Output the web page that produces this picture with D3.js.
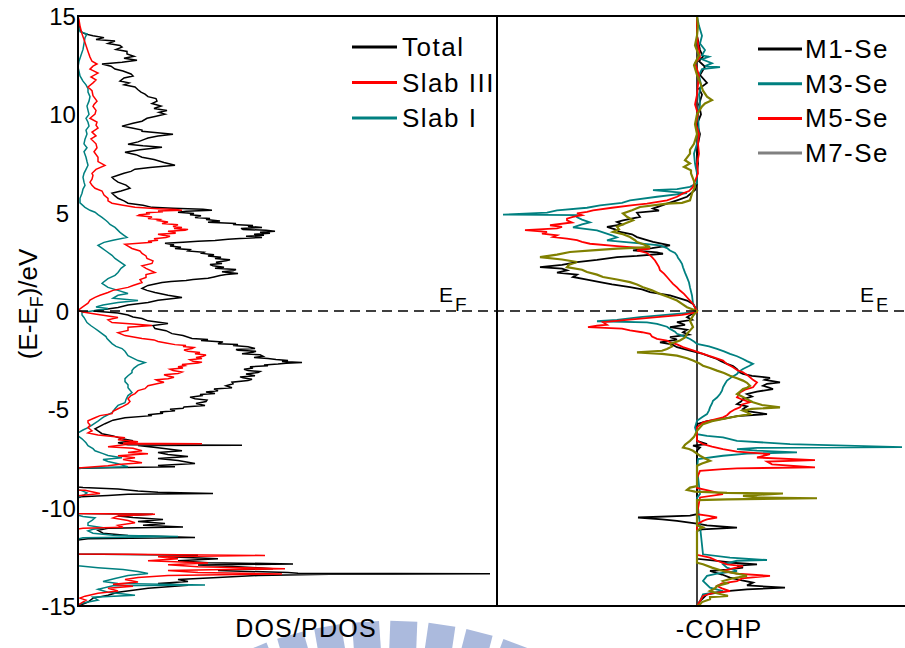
<!DOCTYPE html>
<html>
<head>
<meta charset="utf-8">
<script src="https://cdn.jsdelivr.net/npm/d3@7"></script>
<style>
  body { margin: 0; background: #fff; }
  svg { display: block; }
</style>
</head>
<body>
<svg id="chart" width="905" height="648"></svg>
<script>
// Energy axis ticks (eV, relative to the Fermi level)
const energyTicks = [-15, -10, -5, 0, 5, 10, 15];

// Series names
const dosSeriesNames = ["Total", "Slab III", "Slab I"];
const cohpSeriesNames = ["M1-Se", "M3-Se", "M5-Se", "M7-Se"];

// DOS / PDOS: [energy (eV), density of states]
const dosTotal = [
[15,0],[14.5,0.1],[14.2,0.3],[14.09,0.7],[14.0,1.5],[13.9,2.6],[13.8,1.8],[13.73,3.7],[13.6,3.0],[13.5,4.2],[13.42,4.4],[13.3,3.8],[13.2,4.9],[13.07,4.9],[12.95,5.6],[12.85,4.6],[12.75,5.9],[12.65,4.4],[12.56,2.4],[12.45,3.3],[12.3,3.7],[12.2,4.5],[12.05,5.3],[11.95,5.5],[11.85,4.6],[11.69,4.2],[11.6,5.1],[11.5,4.6],[11.39,5.7],[11.25,6.0],[11.13,6.3],[11.03,6.7],[10.9,7.0],[10.8,7.8],[10.67,7.9],[10.55,7.4],[10.42,8.3],[10.3,7.6],[10.2,8.9],[10.1,8.1],[10.01,8.7],[9.9,7.8],[9.8,6.9],[9.65,6.4],[9.55,5.5],[9.4,4.4],[9.3,5.4],[9.2,6.4],[9.14,6.4],[9.05,8.2],[8.99,9.5],[8.9,8.0],[8.8,7.0],[8.74,6.7],[8.6,6.0],[8.48,5.0],[8.4,6.5],[8.33,8.4],[8.2,6.2],[8.07,4.7],[7.95,5.8],[7.82,6.4],[7.7,7.6],[7.55,8.6],[7.41,9.7],[7.3,7.2],[7.21,5.7],[7.1,5.3],[7.0,4.6],[6.9,4.0],[6.8,3.4],[6.7,3.6],[6.55,4.0],[6.4,4.8],[6.24,5.2],[6.1,4.3],[5.99,3.4],[5.85,3.7],[5.73,4.0],[5.6,4.6],[5.48,5.0],[5.38,6.5],[5.27,7.4],[5.22,9.5],[5.17,12.5],[5.12,13.4],[5.07,10.8],[5.02,10.0],[4.96,11.6],[4.9,11.2],[4.84,12.3],[4.76,11.7],[4.7,13.2],[4.65,12.8],[4.58,14.2],[4.51,13.0],[4.45,15.8],[4.4,15.5],[4.35,17.5],[4.3,17.0],[4.25,18.4],[4.2,16.3],[4.15,16.5],[4.1,18.8],[4.05,19.7],[4.0,18.2],[3.95,19.2],[3.9,17.6],[3.85,18.6],[3.8,16.8],[3.74,18.4],[3.69,16.2],[3.65,15.0],[3.59,13.7],[3.55,12.0],[3.5,10.5],[3.44,8.7],[3.37,9.6],[3.3,9.2],[3.24,10.3],[3.18,9.7],[3.12,11.2],[3.05,11.0],[2.99,12.6],[2.93,12.4],[2.86,13.6],[2.8,13.0],[2.73,14.3],[2.67,13.7],[2.61,15.2],[2.55,14.8],[2.48,13.8],[2.42,14.4],[2.36,13.2],[2.3,13.5],[2.23,14.6],[2.17,13.7],[2.11,15.8],[2.05,15.5],[1.99,14.4],[1.96,15.0],[1.91,16.0],[1.85,14.8],[1.8,14.2],[1.73,13.6],[1.66,13.0],[1.6,11.5],[1.55,10.8],[1.5,9.3],[1.45,8.4],[1.3,7.0],[1.15,6.4],[1.05,6.9],[0.94,7.7],[0.8,9.0],[0.69,10.4],[0.55,8.0],[0.43,7.0],[0.3,5.0],[0.18,4.0],[0.08,2.6],[0.0,1.5],[-0.1,4.0],[-0.2,5.0],[-0.3,5.5],[-0.38,6.4],[-0.5,7.0],[-0.64,9.0],[-0.74,7.5],[-0.89,7.7],[-1.0,8.8],[-1.15,9.4],[-1.25,10.5],[-1.4,11.4],[-1.45,13.0],[-1.5,12.3],[-1.57,14.5],[-1.66,14.0],[-1.7,16.0],[-1.75,15.5],[-1.82,17.0],[-1.91,17.7],[-1.96,15.8],[-2.0,16.0],[-2.05,17.8],[-2.1,17.5],[-2.17,16.4],[-2.23,18.2],[-2.3,18.5],[-2.36,17.6],[-2.42,19.0],[-2.47,19.8],[-2.52,21.0],[-2.57,20.4],[-2.62,22.4],[-2.66,20.8],[-2.7,20.0],[-2.74,18.6],[-2.78,19.0],[-2.84,17.2],[-2.9,17.5],[-2.96,16.6],[-3.03,17.0],[-3.08,18.2],[-3.13,18.0],[-3.2,16.8],[-3.29,17.7],[-3.35,16.2],[-3.4,16.5],[-3.47,17.4],[-3.54,17.0],[-3.62,15.4],[-3.7,15.5],[-3.8,14.8],[-3.9,15.4],[-3.97,13.6],[-4.05,14.0],[-4.12,12.8],[-4.2,13.7],[-4.25,12.2],[-4.3,12.5],[-4.38,11.2],[-4.46,11.7],[-4.53,12.9],[-4.6,12.8],[-4.7,11.8],[-4.81,12.7],[-4.88,10.6],[-4.95,10.5],[-5.0,9.2],[-5.07,9.7],[-5.14,8.2],[-5.2,8.5],[-5.27,7.0],[-5.32,7.4],[-5.43,4.7],[-5.55,3.5],[-5.73,2.7],[-5.99,1.7],[-6.1,2.0],[-6.24,2.4],[-6.35,3.5],[-6.5,4.4],[-6.6,5.5],[-6.7,4.0],[-6.8,5.0],[-6.82,16.4],[-6.84,6.0],[-6.95,8.0],[-7.11,10.4],[-7.2,8.0],[-7.3,9.0],[-7.4,11.0],[-7.5,8.0],[-7.6,10.0],[-7.75,11.7],[-7.85,8.0],[-7.92,9.7],[-7.97,3.0],[-8.0,0],[-8.95,0],[-8.97,0.5],[-9.05,4.0],[-9.15,6.0],[-9.22,8.0],[-9.28,13.5],[-9.32,5.0],[-9.38,3.0],[-9.45,0.3],[-9.5,0],[-10.3,0],[-10.33,7.5],[-10.42,4.0],[-10.5,5.5],[-10.6,8.5],[-10.7,6.0],[-10.8,8.7],[-10.9,6.5],[-10.98,10.5],[-11.05,3.0],[-11.15,2.0],[-11.3,2.5],[-11.42,5.0],[-11.52,11.7],[-11.58,1.0],[-11.65,0],[-12.35,0],[-12.42,12.0],[-12.5,9.0],[-12.6,14.0],[-12.7,10.0],[-12.8,13.0],[-12.86,21.5],[-12.92,12.0],[-13.0,16.0],[-13.1,19.5],[-13.2,14.0],[-13.3,21.0],[-13.34,22.0],[-13.36,41.2],[-13.38,25.2],[-13.45,18.0],[-13.55,14.0],[-13.65,10.0],[-13.75,11.0],[-13.85,8.0],[-13.95,11.0],[-14.1,7.0],[-14.2,5.5],[-14.3,4.0],[-14.45,3.0],[-14.6,1.5],[-14.8,1.0],[-15,0]
];

const dosSlabIII = [
[15,0],[14.8,0.1],[14.5,0.2],[14.29,0.3],[14.09,0.4],[13.8,0.6],[13.5,0.8],[13.2,1.0],[12.91,1.2],[12.7,1.4],[12.56,1.9],[12.45,1.5],[12.3,1.2],[12.1,2.0],[11.9,1.3],[11.75,1.8],[11.6,1.5],[11.39,1.0],[11.2,1.4],[10.95,1.5],[10.67,1.9],[10.5,1.6],[10.4,1.5],[10.2,1.8],[10.01,1.7],[9.8,1.2],[9.6,1.9],[9.45,1.8],[9.3,2.0],[9.1,1.4],[8.9,1.8],[8.75,1.3],[8.5,1.8],[8.3,1.9],[8.1,1.6],[7.82,2.0],[7.6,2.0],[7.4,2.7],[7.2,1.8],[7.0,1.4],[6.9,1.5],[6.7,1.4],[6.55,1.2],[6.39,1.4],[6.24,1.7],[6.1,2.4],[5.9,2.6],[5.73,3.0],[5.6,3.0],[5.48,3.4],[5.38,4.5],[5.27,5.7],[5.2,8.0],[5.16,9.8],[5.12,10.4],[5.08,8.0],[5.05,8.5],[5.0,6.8],[4.95,7.2],[4.9,6.2],[4.85,6.0],[4.78,7.4],[4.7,7.0],[4.65,8.2],[4.6,8.0],[4.52,9.0],[4.45,8.4],[4.38,10.0],[4.3,9.5],[4.25,10.4],[4.2,9.6],[4.15,11.0],[4.1,10.7],[4.05,9.0],[4.0,9.7],[3.95,9.7],[3.9,8.0],[3.85,8.5],[3.8,9.2],[3.74,8.8],[3.67,7.6],[3.6,8.0],[3.55,7.0],[3.49,7.4],[3.39,4.7],[3.3,5.0],[3.18,5.4],[3.05,6.2],[2.93,6.4],[2.8,6.8],[2.67,6.9],[2.55,7.5],[2.42,7.4],[2.3,6.4],[2.17,6.8],[1.96,7.7],[1.85,6.8],[1.7,6.8],[1.6,6.2],[1.45,6.4],[1.3,5.5],[1.2,5.0],[1.05,3.5],[0.94,3.0],[0.8,2.2],[0.69,1.7],[0.55,1.2],[0.4,1.0],[0.18,0.4],[0.03,0],[-0.05,0.5],[-0.15,1.7],[-0.25,3.0],[-0.33,4.0],[-0.45,3.0],[-0.59,3.4],[-0.66,5.5],[-0.74,7.4],[-0.82,5.0],[-0.99,5.0],[-1.1,4.0],[-1.25,4.7],[-1.4,6.4],[-1.47,7.6],[-1.55,8.0],[-1.63,8.8],[-1.71,9.7],[-1.76,10.8],[-1.8,10.5],[-1.86,11.6],[-1.91,11.4],[-1.98,10.6],[-2.05,11.0],[-2.11,12.2],[-2.17,11.7],[-2.24,12.8],[-2.3,12.5],[-2.36,11.8],[-2.42,12.4],[-2.48,11.2],[-2.55,11.5],[-2.6,12.4],[-2.65,12.0],[-2.72,10.4],[-2.78,10.7],[-2.84,10.0],[-2.9,10.5],[-2.96,9.2],[-3.03,9.5],[-3.1,10.4],[-3.18,10.0],[-3.24,8.6],[-3.3,9.0],[-3.37,9.6],[-3.44,9.0],[-3.5,7.8],[-3.55,8.0],[-3.62,8.6],[-3.69,8.0],[-3.8,7.0],[-3.95,6.7],[-4.05,6.0],[-4.2,5.7],[-4.3,5.3],[-4.46,5.0],[-4.6,5.2],[-4.71,5.0],[-4.85,4.5],[-4.97,4.0],[-5.1,3.5],[-5.22,3.4],[-5.32,2.2],[-5.43,1.7],[-5.58,1.0],[-5.68,1.0],[-5.8,1.2],[-5.93,1.0],[-6.09,1.4],[-6.2,1.0],[-6.3,2.0],[-6.44,4.7],[-6.55,4.0],[-6.65,6.0],[-6.73,4.5],[-6.75,12.4],[-6.77,5.0],[-6.9,3.0],[-6.98,5.5],[-7.11,6.4],[-7.2,5.0],[-7.26,7.0],[-7.36,4.0],[-7.46,5.7],[-7.55,4.5],[-7.72,6.4],[-7.8,4.0],[-7.87,3.0],[-7.95,1.0],[-7.98,0],[-9.1,0],[-9.12,0.7],[-9.2,1.5],[-9.28,2.2],[-9.35,0.8],[-9.4,0],[-10.3,0],[-10.33,7.7],[-10.42,4.0],[-10.52,3.5],[-10.65,5.0],[-10.77,5.7],[-10.9,4.0],[-11.0,4.5],[-11.05,0.5],[-11.08,0],[-12.35,0],[-12.37,5.0],[-12.43,18.7],[-12.5,8.0],[-12.6,10.0],[-12.7,7.0],[-12.81,13.0],[-12.9,9.0],[-13.0,12.0],[-13.1,20.7],[-13.2,9.0],[-13.3,12.0],[-13.37,20.4],[-13.45,9.0],[-13.55,6.0],[-13.65,4.7],[-13.78,6.0],[-13.9,3.5],[-14.0,5.5],[-14.1,3.0],[-14.24,4.0],[-14.35,2.0],[-14.5,0.7],[-14.6,0.2],[-14.7,0.8],[-14.95,0],[-15,0]
];

const dosSlabI = [
[15,0],[14.5,0.05],[14.2,0.2],[14.09,0.9],[13.9,0.7],[13.6,0.6],[13.3,0.5],[13.0,0.3],[12.7,0.1],[12.4,0],[12.2,0.1],[11.95,0.2],[11.69,0.5],[11.5,0.8],[11.3,1.0],[11.13,1.0],[10.9,1.2],[10.67,1.1],[10.42,0.9],[10.2,1.0],[10.0,1.1],[9.8,0.8],[9.6,1.0],[9.4,1.1],[9.2,0.8],[9.0,0.9],[8.74,0.7],[8.5,0.6],[8.3,0.9],[8.1,0.6],[7.82,0.8],[7.6,0.9],[7.41,1.0],[7.2,0.8],[7.0,0.6],[6.8,0.5],[6.55,0.6],[6.39,0.7],[6.2,0.5],[5.99,0.4],[5.73,0.2],[5.5,0.2],[5.27,0.7],[5.12,1.2],[5.02,1.7],[4.9,2.0],[4.76,2.4],[4.6,2.8],[4.51,3.0],[4.4,3.2],[4.25,3.7],[4.1,4.0],[4.0,4.2],[3.85,4.6],[3.74,4.9],[3.6,3.5],[3.49,2.6],[3.34,2.0],[3.2,2.4],[3.05,2.8],[2.83,3.4],[2.67,3.7],[2.5,4.2],[2.32,4.7],[2.17,4.3],[1.96,4.0],[1.81,3.7],[1.65,3.0],[1.45,2.5],[1.4,2.4],[1.2,3.0],[1.05,4.0],[0.89,5.0],[0.8,4.0],[0.65,3.5],[0.53,6.0],[0.43,4.0],[0.3,2.5],[0.2,1.8],[0.13,3.0],[0.03,1.7],[-0.08,0.4],[-0.2,0.4],[-0.33,0.6],[-0.59,0.9],[-0.75,1.3],[-0.89,1.7],[-1.0,2.0],[-1.15,2.4],[-1.3,2.8],[-1.4,2.9],[-1.66,3.4],[-1.8,3.8],[-1.91,4.4],[-2.05,4.7],[-2.27,5.0],[-2.42,5.6],[-2.52,6.0],[-2.62,6.7],[-2.75,6.0],[-2.9,5.6],[-3.03,5.4],[-3.13,5.4],[-3.29,5.0],[-3.44,4.7],[-3.59,4.7],[-3.75,5.0],[-3.9,5.0],[-4.15,5.4],[-4.3,5.0],[-4.5,4.8],[-4.66,4.7],[-4.8,4.0],[-4.97,3.7],[-5.17,3.4],[-5.35,2.7],[-5.45,2.4],[-5.6,2.0],[-5.8,1.4],[-5.93,1.0],[-6.05,0.5],[-6.19,0],[-6.35,0],[-6.5,0.4],[-6.7,0.8],[-6.85,1.0],[-7.0,1.5],[-7.11,1.7],[-7.25,2.5],[-7.35,3.0],[-7.46,4.4],[-7.55,2.5],[-7.65,3.0],[-7.77,4.0],[-7.85,4.5],[-7.92,5.0],[-7.98,0.5],[-8.02,0],[-9.1,0],[-9.12,0.3],[-9.25,0.9],[-9.35,0.6],[-9.42,0.2],[-9.5,0],[-10.38,0],[-10.45,0.5],[-10.52,1.7],[-10.65,1.4],[-10.77,1.0],[-10.9,1.0],[-11.03,2.7],[-11.1,1.5],[-11.18,1.0],[-11.3,1.5],[-11.4,3.5],[-11.47,10.0],[-11.53,0.5],[-11.6,0],[-12.95,0],[-13.05,2.0],[-13.15,4.5],[-13.25,6.0],[-13.35,7.0],[-13.45,5.0],[-13.6,3.7],[-13.75,2.5],[-13.85,4.0],[-13.93,12.7],[-13.97,3.5],[-14.15,2.0],[-14.3,3.0],[-14.45,5.7],[-14.55,1.5],[-14.7,2.0],[-14.85,0.5],[-14.95,0],[-15,0]
];

// -COHP per bond: [energy (eV), -COHP]
const cohpM1 = [
[15,0],[14,0],[13.27,0.03],[12.93,0.06],[12.7,0.02],[12.42,0.08],[12.0,0.03],[11.6,0.1],[11.3,0.02],[11.0,0.05],[10.5,0.02],[10.0,0.04],[9.5,0],[9.0,0.03],[8.5,0.01],[8.0,0],[7.5,0.01],[7.0,0],[6.5,0],[6.15,-0.02],[5.81,-0.1],[5.63,-0.2],[5.46,-0.3],[5.21,-0.44],[5.1,-0.38],[5.0,-0.6],[4.79,-0.57],[4.61,-0.74],[4.53,-0.8],[4.4,-0.75],[4.28,-0.9],[4.15,-0.82],[4.02,-0.77],[3.9,-0.65],[3.76,-0.6],[3.6,-0.5],[3.51,-0.44],[3.34,-0.27],[3.2,-0.45],[3.08,-0.64],[2.98,-0.4],[2.91,-0.34],[2.8,-0.6],[2.74,-0.8],[2.6,-1.0],[2.49,-1.2],[2.35,-1.35],[2.23,-1.57],[2.15,-1.35],[2.07,-1.3],[1.95,-1.4],[1.85,-1.2],[1.73,-1.24],[1.6,-1.1],[1.47,-0.97],[1.35,-0.85],[1.21,-0.67],[1.1,-0.55],[0.96,-0.47],[0.79,-0.27],[0.53,-0.1],[0.36,-0.04],[0,0],[-0.31,-0.1],[-0.45,-0.05],[-0.57,-0.2],[-0.7,-0.12],[-0.82,-0.27],[-0.95,-0.1],[-1.08,-0.14],[-1.2,-0.08],[-1.33,-0.27],[-1.45,-0.2],[-1.59,-0.37],[-1.7,-0.25],[-1.84,-0.2],[-2.01,-0.07],[-2.18,0.06],[-2.3,0.12],[-2.44,0.2],[-2.55,0.24],[-2.69,0.3],[-2.8,0.36],[-2.95,0.4],[-3.1,0.42],[-3.2,0.46],[-3.3,0.55],[-3.4,0.73],[-3.5,0.68],[-3.63,0.83],[-3.7,0.7],[-3.8,0.66],[-3.9,0.72],[-3.97,0.76],[-4.1,0.6],[-4.22,0.5],[-4.35,0.55],[-4.48,0.46],[-4.6,0.44],[-4.73,0.4],[-4.85,0.5],[-4.98,0.46],[-5.1,0.52],[-5.24,0.7],[-5.35,0.4],[-5.49,0.26],[-5.6,0.1],[-5.75,0],[-6.6,0],[-6.77,0.1],[-6.85,-0.04],[-6.94,0.03],[-7.1,0],[-10.33,0],[-10.4,-0.07],[-10.5,-0.59],[-10.6,-0.35],[-10.67,-0.2],[-10.81,0],[-10.9,0.1],[-11.01,0.4],[-11.1,0.05],[-11.18,0],[-12.6,0],[-12.71,0.2],[-12.8,0.35],[-12.88,0.6],[-12.95,0.4],[-13.05,0.46],[-13.15,0.3],[-13.22,0.13],[-13.4,0.25],[-13.56,0.33],[-13.7,0.45],[-13.81,0.56],[-13.95,0.5],[-14.07,0.88],[-14.15,0.5],[-14.24,0.3],[-14.41,0.1],[-14.75,0.03],[-15,0]
];

const cohpM3 = [
[15,0],[14.5,0.02],[14.0,0.05],[13.6,0.03],[13.27,0.08],[13.0,0.05],[12.93,0.12],[12.8,0.05],[12.6,0.15],[12.45,0.08],[12.4,0.23],[12.3,0.05],[12.0,0.02],[11.5,0.04],[11.0,0.02],[10.5,0.03],[10.0,0.01],[9.0,0.02],[8.5,0],[8.0,-0.03],[7.5,-0.02],[7.0,0],[6.5,0],[6.31,-0.07],[6.2,-0.2],[6.15,-0.44],[5.99,-0.1],[5.81,-0.4],[5.63,-0.67],[5.5,-0.75],[5.37,-0.97],[5.25,-1.1],[5.12,-1.4],[5.0,-1.5],[4.9,-1.94],[4.87,-1.2],[4.77,-1.2],[4.65,-1.15],[4.51,-1.07],[4.4,-1.15],[4.25,-1.24],[4.1,-1.0],[4.0,-0.94],[3.85,-0.85],[3.74,-0.8],[3.59,-0.9],[3.45,-0.6],[3.34,-0.37],[3.2,-0.3],[3.08,-0.27],[2.95,-0.22],[2.83,-0.2],[2.7,-0.19],[2.57,-0.17],[2.4,-0.15],[2.22,-0.14],[1.95,-0.12],[1.71,-0.1],[1.45,-0.08],[1.2,-0.07],[0.79,-0.05],[0.38,-0.04],[0,0],[-0.06,0],[-0.31,-0.57],[-0.45,-0.8],[-0.52,-1.0],[-0.58,-0.5],[-0.65,-0.4],[-0.8,-0.3],[-0.91,-0.27],[-1.05,-0.22],[-1.16,-0.2],[-1.3,-0.12],[-1.42,-0.07],[-1.55,-0.03],[-1.67,0],[-1.8,0.12],[-1.93,0.2],[-2.05,0.27],[-2.18,0.33],[-2.3,0.4],[-2.44,0.46],[-2.55,0.5],[-2.69,0.56],[-2.8,0.52],[-2.95,0.46],[-3.08,0.42],[-3.2,0.4],[-3.35,0.35],[-3.54,0.3],[-3.7,0.28],[-3.88,0.26],[-4.05,0.25],[-4.22,0.23],[-4.4,0.2],[-4.56,0.16],[-4.7,0.15],[-4.9,0.13],[-5.05,0.12],[-5.24,0.1],[-5.4,0.05],[-5.58,0],[-5.92,-0.02],[-6.26,0],[-6.35,0.1],[-6.43,0.26],[-6.6,0.4],[-6.77,0.93],[-6.92,2.05],[-6.96,0.6],[-7.02,0.4],[-7.1,0.6],[-7.19,1.0],[-7.25,0.5],[-7.36,0.26],[-7.53,0.01],[-8.0,0],[-9.3,0.03],[-9.5,0],[-12.37,0.06],[-12.54,0.33],[-12.66,0.7],[-12.7,0.4],[-12.88,0.26],[-13.05,0.3],[-13.22,0.4],[-13.35,0.2],[-13.47,0.1],[-13.73,0.06],[-14.07,0.13],[-14.24,0.26],[-14.41,0.06],[-14.75,0.03],[-15,0]
];

const cohpM5 = [
[15,0],[14,0],[13.27,0.02],[12.9,0.03],[12.6,-0.02],[12.0,0.02],[11.0,0],[10.5,-0.02],[10.0,0.01],[9.5,-0.01],[9.0,0.02],[8.5,0.01],[8.0,0.02],[7.5,0],[7.0,0.01],[6.6,-0.02],[6.31,-0.04],[6.1,-0.08],[5.98,-0.14],[5.81,-0.2],[5.63,-0.3],[5.46,-0.5],[5.38,-0.64],[5.25,-0.85],[5.12,-1.04],[5.04,-1.1],[4.96,-1.2],[4.87,-1.15],[4.79,-1.24],[4.7,-1.3],[4.61,-1.3],[4.5,-1.25],[4.36,-1.47],[4.28,-1.35],[4.2,-1.4],[4.11,-1.72],[4.02,-1.5],[3.93,-1.55],[3.85,-1.4],[3.76,-1.44],[3.68,-1.3],[3.6,-1.2],[3.51,-1.15],[3.42,-1.07],[3.3,-0.8],[3.17,-0.47],[3.08,-0.6],[2.95,-0.5],[2.83,-0.47],[2.74,-0.45],[2.57,-0.42],[2.4,-0.4],[2.23,-0.38],[2.07,-0.37],[1.9,-0.33],[1.73,-0.3],[1.55,-0.27],[1.38,-0.24],[1.2,-0.2],[1.04,-0.17],[0.87,-0.13],[0.7,-0.1],[0.53,-0.07],[0.36,-0.04],[0,0],[-0.06,0],[-0.2,-0.15],[-0.31,-0.4],[-0.45,-0.7],[-0.57,-0.94],[-0.7,-0.9],[-0.74,-1.0],[-0.82,-1.09],[-0.9,-0.75],[-0.99,-0.67],[-1.08,-0.55],[-1.16,-0.47],[-1.3,-0.45],[-1.42,-0.4],[-1.5,-0.3],[-1.59,-0.27],[-1.7,-0.2],[-1.84,-0.14],[-2.0,-0.04],[-2.18,0.06],[-2.35,0.16],[-2.52,0.26],[-2.7,0.3],[-2.86,0.36],[-3.0,0.4],[-3.12,0.46],[-3.25,0.5],[-3.37,0.53],[-3.5,0.56],[-3.63,0.6],[-3.75,0.58],[-3.88,0.56],[-4.0,0.48],[-4.14,0.43],[-4.25,0.42],[-4.39,0.4],[-4.5,0.45],[-4.64,0.53],[-4.75,0.45],[-4.9,0.43],[-5.0,0.38],[-5.15,0.33],[-5.3,0.3],[-5.41,0.26],[-5.55,0.15],[-5.66,0.06],[-5.92,0],[-6.6,0],[-6.77,0.06],[-6.9,0.15],[-7.02,0.26],[-7.15,0.4],[-7.28,0.73],[-7.45,0.6],[-7.58,1.18],[-7.66,0.7],[-7.8,0.75],[-7.95,1.18],[-8.0,0.4],[-8.04,0.26],[-8.13,0.03],[-8.5,0],[-9.0,0],[-9.15,0.13],[-9.31,0.26],[-9.48,0.03],[-10.33,0],[-10.42,0.12],[-10.5,0.2],[-10.6,0.1],[-10.67,0.06],[-10.84,0],[-12.4,0],[-12.54,0.13],[-12.7,0.2],[-12.88,0.3],[-12.97,0.46],[-13.1,0.35],[-13.22,0.26],[-13.35,0.4],[-13.47,0.73],[-13.6,0.45],[-13.73,0.4],[-13.85,0.25],[-13.98,0.2],[-14.1,0.25],[-14.24,0.33],[-14.35,0.15],[-14.49,0.06],[-14.75,0.03],[-15,0]
];

const cohpM7 = [
[15,0],[14.5,0.01],[14.0,0],[13.5,-0.02],[13.0,0.02],[12.5,-0.03],[12.0,0],[11.5,0.04],[11.2,0.06],[10.9,0.1],[10.72,0.15],[10.55,0.08],[10.4,0.05],[10.0,0],[9.5,-0.02],[9.0,0],[8.5,-0.03],[8.2,-0.07],[8.0,-0.07],[7.8,-0.1],[7.67,-0.12],[7.5,-0.07],[7.33,-0.13],[7.15,-0.06],[7.0,-0.06],[6.6,-0.03],[6.31,-0.02],[5.98,-0.05],[5.63,-0.07],[5.5,-0.15],[5.46,-0.3],[5.29,-0.57],[5.12,-0.65],[4.96,-0.74],[4.79,-0.7],[4.61,-0.64],[4.45,-0.72],[4.28,-0.8],[4.15,-0.78],[4.02,-0.84],[3.9,-0.74],[3.76,-0.67],[3.6,-0.62],[3.51,-0.6],[3.38,-0.53],[3.25,-0.47],[3.17,-0.8],[3.08,-1.05],[3.0,-1.27],[2.87,-1.4],[2.74,-1.57],[2.62,-1.35],[2.49,-1.2],[2.35,-1.28],[2.23,-1.3],[2.1,-1.15],[1.98,-1.1],[1.85,-1.0],[1.73,-0.94],[1.6,-0.8],[1.47,-0.67],[1.35,-0.6],[1.21,-0.54],[1.05,-0.45],[0.87,-0.37],[0.7,-0.28],[0.53,-0.2],[0.36,-0.15],[0.19,-0.1],[0,0],[-0.25,-0.04],[-0.5,-0.07],[-0.82,-0.04],[-1.16,-0.1],[-1.35,-0.12],[-1.5,-0.17],[-1.67,-0.27],[-1.8,-0.25],[-1.93,-0.3],[-2.02,-0.35],[-2.1,-0.6],[-2.18,-0.35],[-2.27,-0.2],[-2.4,-0.1],[-2.52,-0.04],[-2.65,0.02],[-2.78,0.06],[-2.9,0.13],[-3.03,0.2],[-3.15,0.27],[-3.29,0.33],[-3.42,0.4],[-3.54,0.46],[-3.65,0.5],[-3.8,0.53],[-3.9,0.5],[-3.97,0.46],[-4.1,0.43],[-4.22,0.4],[-4.35,0.45],[-4.48,0.5],[-4.64,0.56],[-4.78,0.65],[-4.9,0.83],[-4.98,0.55],[-5.07,0.46],[-5.15,0.5],[-5.24,0.53],[-5.35,0.4],[-5.49,0.26],[-5.6,0.15],[-5.75,0.06],[-6.09,0],[-6.4,-0.03],[-6.6,-0.07],[-6.8,-0.12],[-6.94,-0.14],[-7.02,-0.08],[-7.11,-0.04],[-7.36,0.03],[-7.5,0.08],[-7.62,0.13],[-7.75,0.05],[-7.87,0],[-8.9,0],[-8.98,-0.07],[-9.1,-0.1],[-9.18,-0.02],[-9.25,0.3],[-9.28,0.86],[-9.35,0.6],[-9.4,0.46],[-9.48,0.6],[-9.52,1.2],[-9.58,0.3],[-9.62,0],[-10.9,0],[-11.0,0.06],[-11.1,0.02],[-11.2,0],[-12.8,0],[-12.88,0.06],[-13.05,0.15],[-13.22,0.26],[-13.35,0.4],[-13.47,0.5],[-13.6,0.35],[-13.73,0.26],[-13.85,0.3],[-13.98,0.2],[-14.1,0.18],[-14.24,0.13],[-14.35,0.2],[-14.49,0.31],[-14.55,0.13],[-14.66,0.13],[-14.8,0.05],[-14.92,0.03],[-15,0]
];

// ---------------------------------------------------------------------------
const FONT = "'Liberation Sans', Arial, Helvetica, sans-serif";
const svg = d3.select("#chart");

const plotTop = 16, plotBottom = 606;
const dosLeft = 78, split = 497, cohpRight = 905;

const y = d3.scaleLinear().domain([-15, 15]).range([plotBottom, plotTop]);
const xDos = d3.scaleLinear().domain([0, 41.9]).range([dosLeft, split]);
const xCohp = d3.scaleLinear().domain([-2.0, 2.08]).range([split, cohpRight]);

svg.append("rect").attr("width", 905).attr("height", 648).attr("fill", "#fff");

// faint emblem behind the lower edge
const emblem = svg.append("g").attr("transform", "translate(390,981)");
[-22.2, -16.1, -10, -3.9, 2.2, 8.3, 14.4, 20.5].forEach(a => {
  emblem.append("rect")
    .attr("x", -13.5).attr("y", -360).attr("width", 27).attr("height", 70)
    .attr("fill", "#abbadd")
    .attr("transform", `rotate(${a})`);
});

// clip regions for the two panels
const defs = svg.append("defs");
defs.append("clipPath").attr("id", "clipDos").append("rect")
  .attr("x", dosLeft).attr("y", plotTop).attr("width", split - dosLeft).attr("height", plotBottom - plotTop);
defs.append("clipPath").attr("id", "clipCohp").append("rect")
  .attr("x", split).attr("y", plotTop).attr("width", cohpRight - split).attr("height", plotBottom - plotTop);

// zero line of the -COHP panel
svg.append("line")
  .attr("x1", xCohp(0)).attr("x2", xCohp(0))
  .attr("y1", plotTop).attr("y2", plotBottom)
  .attr("stroke", "#000").attr("stroke-width", 1.5);

// DOS / PDOS curves
const dosLine = d3.line().x(d => xDos(d[1])).y(d => y(d[0]));
const dosLayers = [
  { data: dosTotal, color: "#000000" },
  { data: dosSlabI, color: "#008080" },
  { data: dosSlabIII, color: "#ff0000" }
];
const gDos = svg.append("g").attr("clip-path", "url(#clipDos)");
dosLayers.forEach(s => {
  gDos.append("path").datum(s.data)
    .attr("d", dosLine)
    .attr("fill", "none").attr("stroke", s.color)
    .attr("stroke-width", 1.5).attr("stroke-linejoin", "miter");
});

// -COHP curves
const cohpLine = d3.line().x(d => xCohp(d[1])).y(d => y(d[0]));
const cohpLayers = [
  { data: cohpM1, color: "#000000", w: 1.8 },
  { data: cohpM3, color: "#008080", w: 1.8 },
  { data: cohpM5, color: "#ff0000", w: 1.8 },
  { data: cohpM7, color: "#808000", w: 2.2 }
];
const gCohp = svg.append("g").attr("clip-path", "url(#clipCohp)");
cohpLayers.forEach(s => {
  gCohp.append("path").datum(s.data)
    .attr("d", cohpLine)
    .attr("fill", "none").attr("stroke", s.color)
    .attr("stroke-width", s.w).attr("stroke-linejoin", "miter");
});

// Fermi level
svg.append("line")
  .attr("x1", dosLeft).attr("x2", cohpRight)
  .attr("y1", y(0)).attr("y2", y(0))
  .attr("stroke", "#000").attr("stroke-width", 1.5)
  .attr("stroke-dasharray", "10,6");

// frame
const frame = svg.append("g").attr("stroke", "#000").attr("stroke-width", 2).attr("fill", "none");
frame.append("line").attr("x1", dosLeft - 1).attr("x2", cohpRight).attr("y1", plotTop).attr("y2", plotTop);
frame.append("line").attr("x1", dosLeft - 1).attr("x2", cohpRight).attr("y1", plotBottom).attr("y2", plotBottom);
frame.append("line").attr("x1", dosLeft).attr("x2", dosLeft).attr("y1", plotTop).attr("y2", plotBottom);
frame.append("line").attr("x1", split).attr("x2", split).attr("y1", plotTop).attr("y2", plotBottom);

// energy axis labels
const yAxis = d3.axisLeft(y).tickValues(energyTicks).tickSize(0).tickFormat(d => String(d));
const gAxis = svg.append("g").attr("transform", `translate(${dosLeft},0)`).call(yAxis);
gAxis.select(".domain").remove();
gAxis.selectAll("text")
  .attr("font-family", FONT).attr("font-size", 24).attr("fill", "#000")
  .attr("text-anchor", "end")
  .attr("dy", "0.36em")
  .attr("x", d => 62.5 - dosLeft + String(Math.abs(d)).length * 0.556 * 24 / 2);

// axis titles
const yTitle = svg.append("text")
  .attr("transform", "translate(37,304) rotate(-90)")
  .attr("text-anchor", "middle")
  .attr("font-family", FONT).attr("font-size", 26).attr("fill", "#000");
yTitle.append("tspan").text("(E-E");
yTitle.append("tspan").attr("font-size", 18).attr("dy", 6).text("F");
yTitle.append("tspan").attr("dy", -6).text(")/eV");

svg.append("text").attr("x", 306).attr("y", 637)
  .attr("text-anchor", "middle").attr("font-family", FONT).attr("font-size", 25)
  .attr("letter-spacing", 1.2).text("DOS/PDOS");
svg.append("text").attr("x", 719).attr("y", 638)
  .attr("text-anchor", "middle").attr("font-family", FONT).attr("font-size", 25)
  .attr("letter-spacing", 1.2).text("-COHP");

// E_F markers
[439, 860].forEach(xp => {
  const t = svg.append("text").attr("x", xp).attr("y", 302)
    .attr("font-family", FONT).attr("font-size", 21).attr("fill", "#000");
  t.append("tspan").text("E");
  t.append("tspan").attr("dx", 2).attr("dy", 9).attr("font-size", 19).text("F");
});

// legends
const dosLegendColors = ["#000000", "#ff0000", "#008080"];
dosSeriesNames.forEach((name, i) => {
  const base = 56 + i * 35.5;
  svg.append("line").attr("x1", 352).attr("x2", 397)
    .attr("y1", base - 9).attr("y2", base - 9)
    .attr("stroke", dosLegendColors[i]).attr("stroke-width", 3);
  svg.append("text").attr("x", 402).attr("y", base)
    .attr("font-family", FONT).attr("font-size", 26).attr("letter-spacing", 1.5)
    .attr("fill", "#000").text(name);
});

const cohpLegendColors = ["#000000", "#008080", "#ff0000", "#808080"];
cohpSeriesNames.forEach((name, i) => {
  const base = 58 + i * 34.7;
  svg.append("line").attr("x1", 758).attr("x2", 802)
    .attr("y1", base - 9).attr("y2", base - 9)
    .attr("stroke", cohpLegendColors[i]).attr("stroke-width", 3);
  svg.append("text").attr("x", 805).attr("y", base)
    .attr("font-family", FONT).attr("font-size", 26).attr("letter-spacing", 1.5)
    .attr("fill", "#000").text(name);
});
</script>
</body>
</html>
